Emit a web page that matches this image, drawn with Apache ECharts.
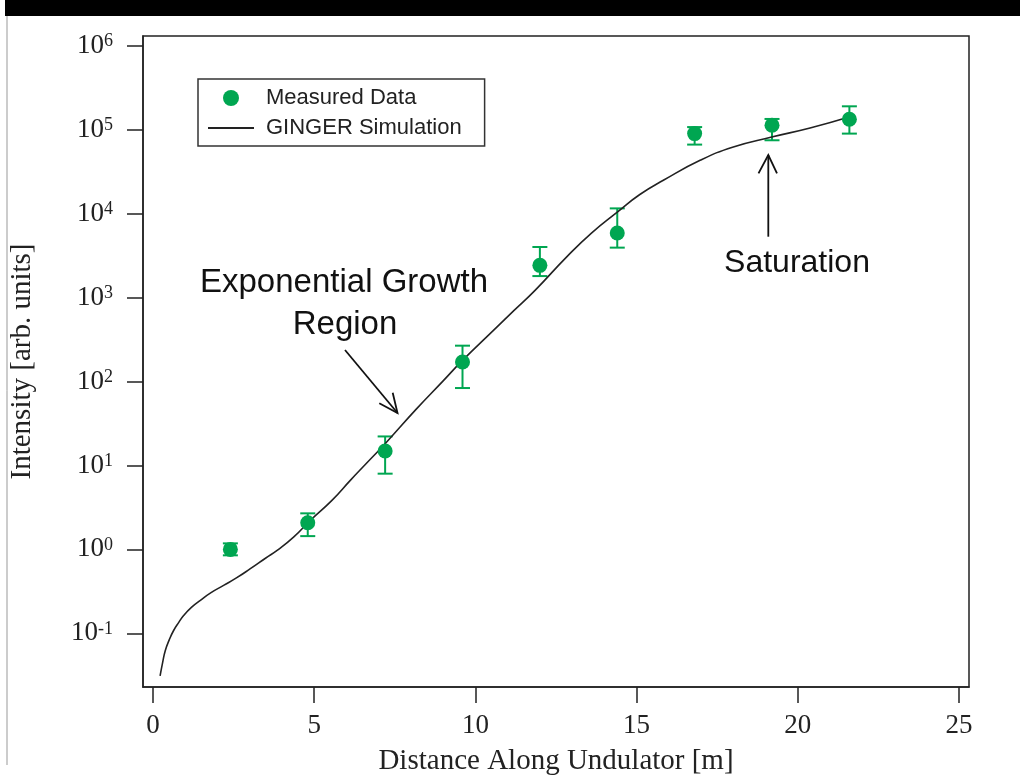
<!DOCTYPE html>
<html>
<head>
<meta charset="utf-8">
<script src="https://cdn.jsdelivr.net/npm/echarts@6/dist/echarts.min.js"></script>
<style>
html,body{margin:0;padding:0;background:#fff;}
#chart{width:1020px;height:776px;}
</style>
</head>
<body>
<div id="chart"></div>
<script>
// Measured data (distance in m, intensity in arb. units)
const measX = [2.4, 4.8, 7.2, 9.6, 12.0, 14.4, 16.8, 19.2, 21.6];
const measY = [1.0, 2.08, 14.9, 171, 2430, 5900, 90300, 113500, 133700];
const errLow = [0.85, 1.44, 7.99, 83.8, 1810, 3950, 66800, 75200, 90300];
const errHigh = [1.18, 2.69, 22.2, 268, 4020, 11600, 108000, 135000, 191000];

// GINGER simulation curve
const simX = [0.22, 0.30, 0.38, 0.50, 0.64, 0.80, 0.95, 1.20, 1.47, 1.80, 2.19, 2.60, 3.02, 3.50, 3.85, 4.36, 4.88, 5.55, 6.12, 6.60, 7.20, 8.18, 9.00, 9.60, 10.56, 11.20, 11.85, 12.84, 13.60, 14.40, 15.10, 15.83, 16.97, 18.00, 19.19, 20.38, 21.59];
const simY = [0.031, 0.045, 0.062, 0.083, 0.108, 0.135, 0.163, 0.205, 0.247, 0.305, 0.372, 0.46, 0.589, 0.79, 0.973, 1.40, 2.22, 3.84, 6.65, 10.4, 18.2, 47.6, 102, 179, 408, 705, 1224, 3090, 5890, 10470, 16980, 25100, 43400, 62600, 82200, 105400, 142600];

// Tick labels
const xTicks = [0, 5, 10, 15, 20, 25];
const yTickExponents = [-1, 0, 1, 2, 3, 4, 5, 6];

const GREEN = '#00a651';
const INK = '#222';
const yLogMin = -1.64, yLogMax = 6.119;

const chart = echarts.init(document.getElementById('chart'), null, {renderer: 'canvas'});

const measData = measX.map((x, i) => [x, measY[i]]);
const errData = measX.map((x, i) => [x, errLow[i], errHigh[i]]);
const simData = simX.map((x, i) => [x, simY[i]]);

const option = {
  backgroundColor: '#fff',
  animation: false,
  grid: {
    left: 143, right: 51, top: 36, bottom: 89,
    outerBoundsMode: 'none',
    containLabel: false,
    show: true, borderColor: INK, borderWidth: 1.5, backgroundColor: 'transparent'
  },
  legend: {
    orient: 'vertical',
    left: 198, top: 79,
    padding: [8, 23, 7, 9],
    itemGap: 8,
    itemWidth: 46, itemHeight: 16,
    borderColor: '#333', borderWidth: 1.5,
    data: [
      {name: 'Measured Data'},
      {name: 'GINGER Simulation', itemStyle: {opacity: 0}}
    ],
    textStyle: {fontFamily: 'Liberation Sans', fontSize: 22, color: INK, lineHeight: 22, padding: [0, 0, 0, 7]}
  },
  xAxis: {
    type: 'value',
    min: -0.31, max: 25.31,
    name: 'Distance Along Undulator [m]',
    nameLocation: 'middle', nameGap: 60,
    nameTextStyle: {fontFamily: 'Liberation Serif', fontSize: 29, color: INK},
    axisLine: {show: true, onZero: false, lineStyle: {color: INK, width: 1.5}},
    axisTick: {show: true, customValues: xTicks, length: 16, lineStyle: {color: INK, width: 1.5}},
    axisLabel: {customValues: xTicks, margin: 25, fontFamily: 'Liberation Serif', fontSize: 27, color: INK},
    splitLine: {show: false}
  },
  yAxis: [
    {
      type: 'log', logBase: 10,
      min: Math.pow(10, yLogMin), max: Math.pow(10, yLogMax),
      show: false
    },
    {
      type: 'value',
      min: yLogMin, max: yLogMax,
      position: 'left',
      name: 'Intensity [arb. units]',
      nameLocation: 'middle', nameGap: 106, nameRotate: 90,
      nameTextStyle: {fontFamily: 'Liberation Serif', fontSize: 29, color: INK},
      axisLine: {show: true, onZero: false, lineStyle: {color: INK, width: 1.5}},
      axisTick: {show: true, customValues: yTickExponents, length: 16, lineStyle: {color: INK, width: 1.5}},
      axisLabel: {
        customValues: yTickExponents, margin: 30,
        formatter: v => '{b|10}{s|' + v + '}',
        rich: {
          b: {fontFamily: 'Liberation Serif', fontSize: 27, lineHeight: 27, color: INK, verticalAlign: 'bottom', padding: [7, 0, 0, 0]},
          s: {fontFamily: 'Liberation Serif', fontSize: 18, lineHeight: 18, color: INK, verticalAlign: 'top'}
        }
      },
      splitLine: {show: false}
    }
  ],
  series: [
    {
      name: 'Error',
      type: 'custom',
      yAxisIndex: 0,
      data: errData,
      silent: true,
      renderItem: (params, api) => {
        const x = api.value(0);
        const lo = api.coord([x, api.value(1)]);
        const hi = api.coord([x, api.value(2)]);
        const w = 7.5;
        const style = {stroke: GREEN, lineWidth: 2, fill: null};
        return {
          type: 'group',
          children: [
            {type: 'line', shape: {x1: lo[0], y1: lo[1], x2: hi[0], y2: hi[1]}, style},
            {type: 'line', shape: {x1: lo[0] - w, y1: lo[1], x2: lo[0] + w, y2: lo[1]}, style},
            {type: 'line', shape: {x1: hi[0] - w, y1: hi[1], x2: hi[0] + w, y2: hi[1]}, style}
          ]
        };
      },
      z: 2
    },
    {
      name: 'GINGER Simulation',
      type: 'line',
      yAxisIndex: 0,
      data: simData,
      symbol: 'none',
      smooth: 0.5,
      lineStyle: {color: INK, width: 1.6},
      itemStyle: {color: INK},
      z: 3
    },
    {
      name: 'Measured Data',
      type: 'scatter',
      yAxisIndex: 0,
      data: measData,
      symbol: 'circle',
      symbolSize: 15,
      itemStyle: {color: GREEN, opacity: 1},
      z: 4
    }
  ],
  graphic: [
    {type: 'rect', left: 5, top: 0, shape: {width: 1015, height: 16}, style: {fill: '#000'}, silent: true},
    {type: 'line', shape: {x1: 7, y1: 16, x2: 7, y2: 765}, style: {stroke: '#999', lineWidth: 1}, silent: true},
    {type: 'text', x: 344, y: 283, style: {text: 'Exponential Growth', font: '33px "Liberation Sans"', fill: '#111', align: 'center', verticalAlign: 'middle'}, silent: true},
    {type: 'text', x: 345, y: 325, style: {text: 'Region', font: '33px "Liberation Sans"', fill: '#111', align: 'center', verticalAlign: 'middle'}, silent: true},
    {type: 'text', x: 797, y: 263, style: {text: 'Saturation', font: '32px "Liberation Sans"', fill: '#111', align: 'center', verticalAlign: 'middle'}, silent: true},
    {type: 'polyline', shape: {points: [[345, 350], [397.5, 413]]}, style: {stroke: '#111', lineWidth: 1.8, fill: null}, silent: true},
    {type: 'polyline', shape: {points: [[379.3, 403.3], [397.5, 413], [392.7, 392.7]]}, style: {stroke: '#111', lineWidth: 1.8, fill: null}, silent: true},
    {type: 'polyline', shape: {points: [[768.3, 236.7], [768.3, 155]]}, style: {stroke: '#111', lineWidth: 1.8, fill: null}, silent: true},
    {type: 'polyline', shape: {points: [[758.5, 173.3], [768.3, 155], [777, 173.3]]}, style: {stroke: '#111', lineWidth: 1.8, fill: null}, silent: true}
  ]
};

chart.setOption(option);
</script>
</body>
</html>
